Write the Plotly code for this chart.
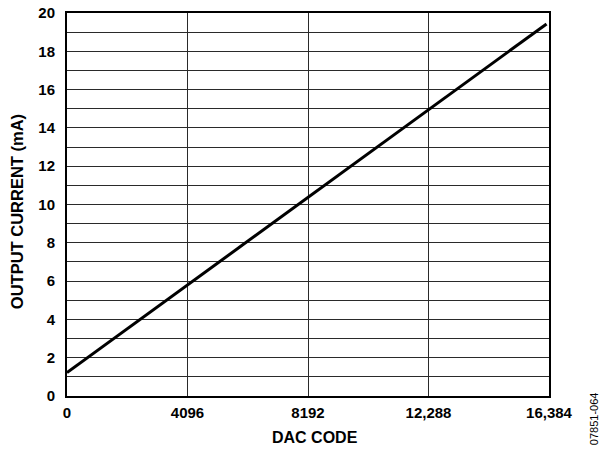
import plotly.graph_objects as go

# DAC code vs output current
dac_code = [0, 4096, 8192, 12288, 16300]
output_ma = [1.22, 5.8, 10.37, 14.95, 19.43]

x_ticks = [0, 4096, 8192, 12288, 16384]
x_labels = ["0", "4096", "8192", "12,288", "16,384"]

font = "Liberation Sans, Arial, sans-serif"
grid = "#2a2a2a"

fig = go.Figure()
fig.add_trace(go.Scatter(x=dac_code, y=output_ma, mode="lines",
                         line=dict(color="black", width=3), showlegend=False))

fig.update_layout(
    width=600, height=449,
    margin=dict(l=67, r=51, t=13, b=53),
    plot_bgcolor="white", paper_bgcolor="white",
    font=dict(family=font, size=15, color="black"),
)

fig.update_xaxes(
    range=[0, 16384], tickvals=x_ticks, ticktext=x_labels,
    showgrid=True, gridcolor=grid, gridwidth=1,
    showline=True, linecolor="black", linewidth=2, mirror=True,
    zeroline=False, ticks="", ticklabelstandoff=2, automargin=False,
    ticklabeloverflow="allow",
    tickfont=dict(family=font, size=15, color="black", weight="bold"),
)
fig.update_yaxes(
    range=[0, 20], dtick=2,
    showgrid=True, gridcolor=grid, gridwidth=1,
    minor=dict(dtick=1, showgrid=True, gridcolor=grid, gridwidth=1),
    showline=True, linecolor="black", linewidth=2, mirror=True,
    zeroline=False, ticks="", ticklabelstandoff=7, automargin=False,
    ticklabeloverflow="allow",
    tickfont=dict(family=font, size=15, color="black", weight="bold"),
)

# axis titles sit a little off-centre in the reference, so place them by hand
fig.add_annotation(text="<b>DAC CODE</b>", xref="paper", yref="paper",
                   x=0.514, y=-0.108, showarrow=False,
                   xanchor="center", yanchor="middle",
                   font=dict(family=font, size=16, color="black"))
fig.add_annotation(text="<b>OUTPUT CURRENT (mA)</b>", xref="paper", yref="paper",
                   x=-0.105, y=0.481, textangle=-90, showarrow=False,
                   xanchor="center", yanchor="middle",
                   font=dict(family=font, size=16.5, color="black"))

fig.add_annotation(text="07851-064", xref="paper", yref="paper",
                   x=1.095, y=0.016, textangle=-90, showarrow=False,
                   xanchor="center", yanchor="top",
                   font=dict(family=font, size=11, color="black"))

# drop the default 8px page margin so the figure sits at the window corner
fig.write_html("out.html", config={"displayModeBar": False},
               post_script="document.body.style.margin = '0';")
